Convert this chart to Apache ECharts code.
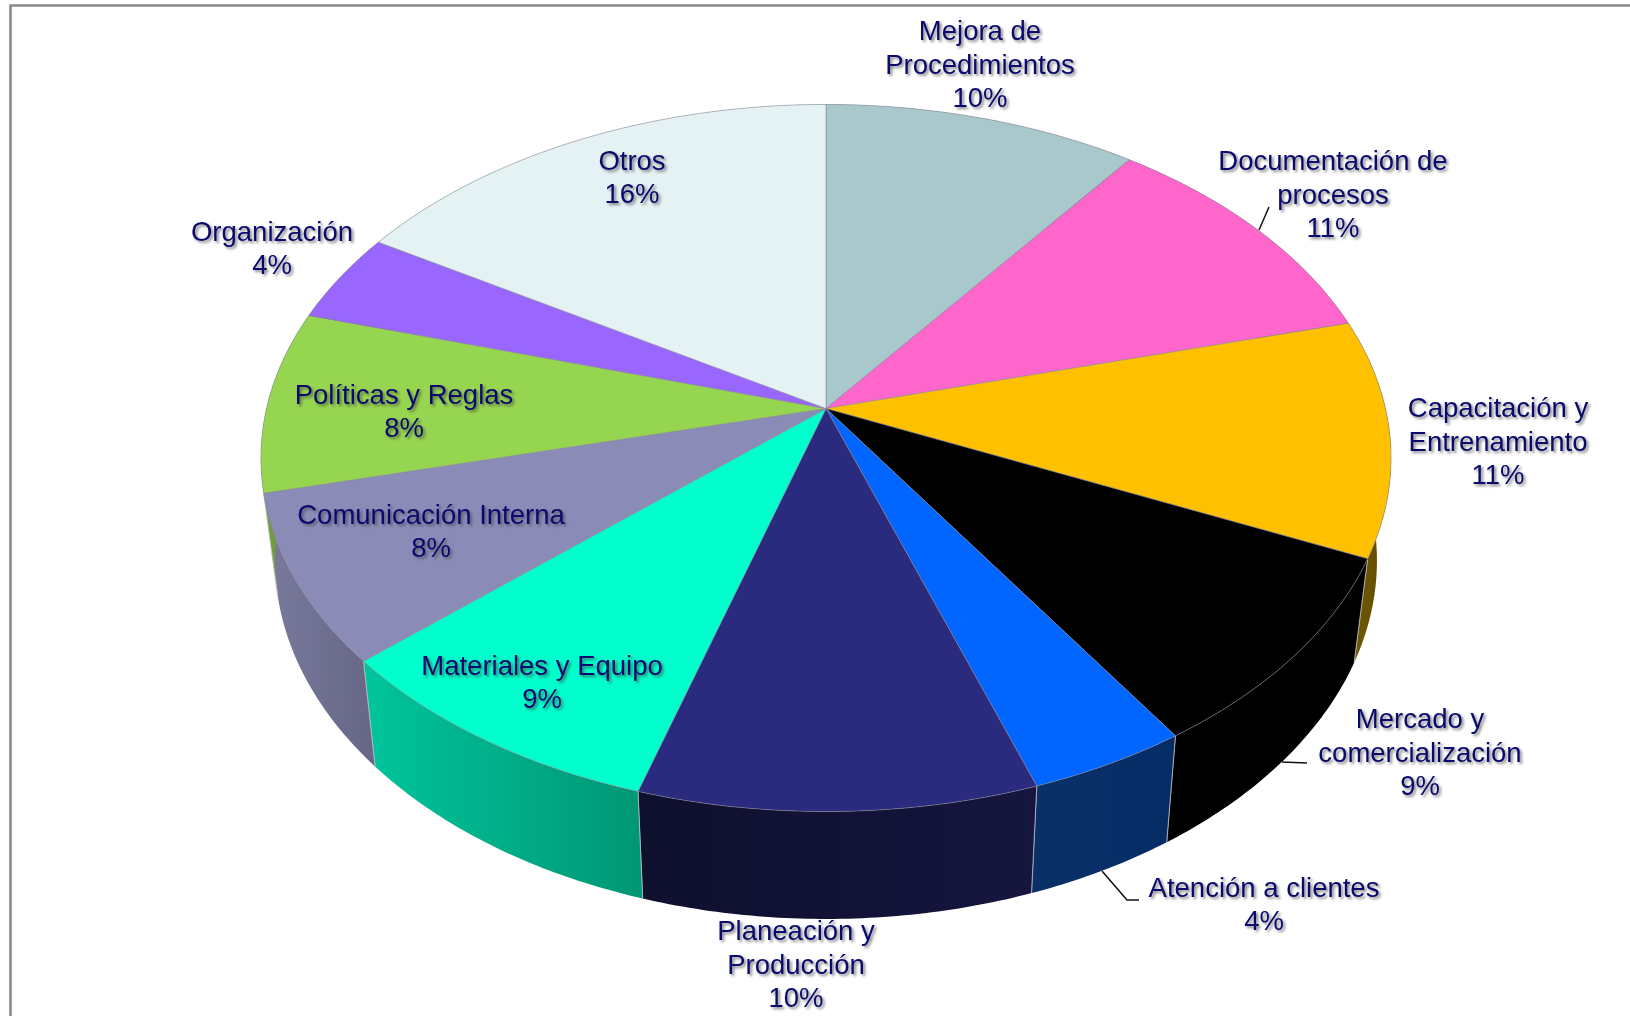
<!DOCTYPE html>
<html><head><meta charset="utf-8">
<script src="https://cdn.jsdelivr.net/npm/echarts@6/dist/echarts.min.js"></script>
<style>html,body{margin:0;background:#fff}#c{width:1630px;height:1016px}</style>
</head><body><div id="c"></div>
<script>
const categories = ['Mejora de\nProcedimientos','Documentación de\nprocesos','Capacitación y\nEntrenamiento','Mercado y\ncomercialización','Atención a clientes','Planeación y\nProducción','Materiales y Equipo','Comunicación Interna','Políticas y Reglas','Organización','Otros'];
const values = [10.3,10.6,10.8,9.0,4.0,10.0,8.8,7.7,8.3,4.1,16.4];
const topColors = ['#a8c8cc','#ff66cc','#ffc000','#000000','#0066ff','#2a2a7e','#00ffcc','#8b8bb8','#96d550','#9966ff','#e4f2f4'];
const wallColorsStart = ['#7f9a9e','#a03c80','#7a6000','#000000','#062c66','#15153f','#00c59c','#7a7a9e','#6f9e3a','#6a44b0','#a0b0b2'];
const wallColorsEnd = ['#7f9a9e','#a03c80','#5e4a00','#000000','#0a3068','#0f0f2e','#009674','#666686','#6f9e3a','#6a44b0','#a0b0b2'];
const labelAnchors = [[980,66],[1333,196],[1498,443],[1420,754],[1264,906],[796,966],[542,684],[431,533],[404,413],[272,250],[632,179]];
const leaderPaths = [null,[[1269,207],[1259,230]],null,[[1307,763],[1282,762]],[[1139,900],[1127,900],[1102,871]],null,null,null,null,null,null];

const CX = 826, CY = 408.5, RX = 559.5, RY = 346.6, K = -0.14;
const WX = 0.975, WY = 1.0135, DROP = 102;
const total = values.reduce((a, b) => a + b, 0);
const starts = values.map((_, i) => values.slice(0, i).reduce((a, b) => a + b, 0) / total * Math.PI * 2);

function rim(t) {
  const u = Math.sin(t), v = -Math.cos(t), w = 1 + K * v;
  return [CX + RX * u / w, CY + RY * v / w];
}
function toBottom(p) {
  return [CX + (p[0] - CX) * WX, CY + (p[1] - CY) * WY + DROP];
}
function arc(i, share) {
  const a = starts[i], b = a + share / total * Math.PI * 2, n = Math.max(4, Math.ceil((b - a) * 90));
  const pts = [];
  for (let j = 0; j <= n; j++) pts.push(rim(a + (b - a) * j / n));
  return pts;
}
const dataRows = values.map((v, i) => [i, v]);

const option = {
  animation: false,
  backgroundColor: '#fff',
  graphic: [{ type: 'polyline', silent: true, z: 0,
    shape: { points: [[10.5, 1016], [10.5, 5.5], [1630, 5.5]] },
    style: { stroke: '#8a8a8a', lineWidth: 2.6, fill: 'none' } }],
  series: [
    { type: 'custom', name: 'walls', coordinateSystem: 'none', z: 1, silent: true, data: dataRows,
      renderItem(params, api) {
        const i = api.value(0), top = arc(i, api.value(1));
        const bot = top.map(toBottom);
        const xs = top.concat(bot).map(p => p[0]);
        return { type: 'group', children: [
          { type: 'polygon', shape: { points: top.concat(bot.slice().reverse()) },
            style: { fill: { type: 'linear', x: 0, y: 0, x2: 1, y2: 0, colorStops: [
              { offset: 0, color: i < 6 && i > 2 ? wallColorsEnd[i] : wallColorsStart[i] },
              { offset: 1, color: i < 6 && i > 2 ? wallColorsStart[i] : wallColorsEnd[i] }] },
              stroke: 'none' } },
          { type: 'polyline', shape: { points: [top[0], bot[0]] }, style: { stroke: 'rgba(190,190,200,.75)', lineWidth: 1, fill: 'none' } },
          { type: 'polyline', shape: { points: [top[top.length - 1], bot[bot.length - 1]] }, style: { stroke: 'rgba(190,190,200,.75)', lineWidth: 1, fill: 'none' } }
        ] };
      } },
    { type: 'custom', name: 'tops', coordinateSystem: 'none', z: 2, silent: true, data: dataRows,
      renderItem(params, api) {
        const i = api.value(0);
        return { type: 'polygon', shape: { points: [[CX, CY]].concat(arc(i, api.value(1))) },
          style: { fill: topColors[i], stroke: 'rgba(135,135,150,.7)', lineWidth: 0.8, lineJoin: 'round' } };
      } },
    { type: 'custom', name: 'labels', coordinateSystem: 'none', z: 3, silent: true, data: dataRows,
      renderItem(params, api) {
        const i = api.value(0), kids = [];
        if (leaderPaths[i]) kids.push({ type: 'polyline', shape: { points: leaderPaths[i] }, style: { stroke: '#111', lineWidth: 1.5, fill: 'none' } });
        const a = labelAnchors[i];
        kids.push({ type: 'text', x: a[0], y: a[1], style: {
          text: categories[i] + '\n' + Math.round(api.value(1)) + '%',
          fontFamily: 'Liberation Sans', fontSize: 27.5, lineHeight: 33.4, fill: '#0a0a6e',
          align: 'center', verticalAlign: 'middle',
          textShadowColor: 'rgba(60,60,60,.65)', textShadowBlur: 3, textShadowOffsetX: 2, textShadowOffsetY: 2 } });
        return { type: 'group', children: kids };
      } }
  ]
};
echarts.init(document.getElementById('c')).setOption(option);
</script></body></html>
